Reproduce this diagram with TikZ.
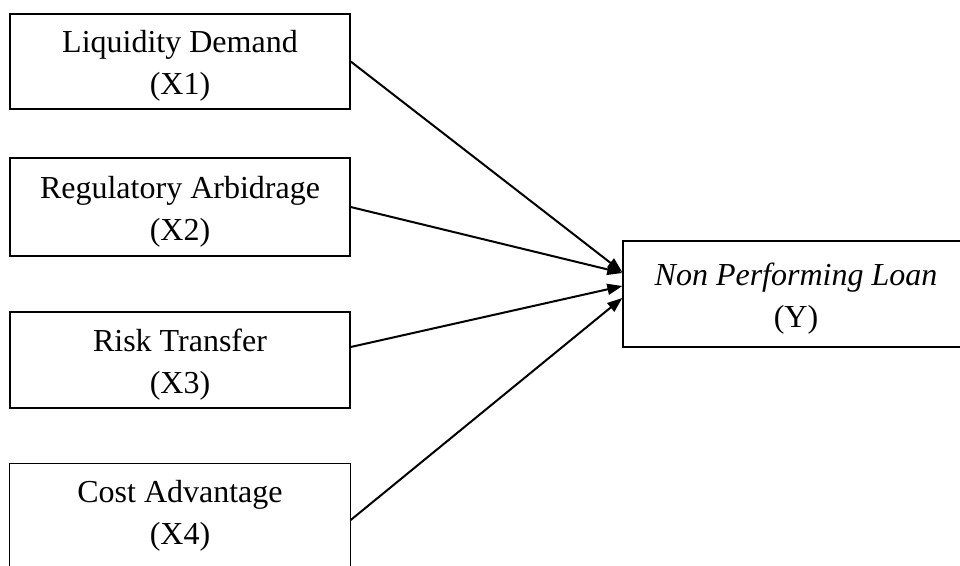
\documentclass[tikz,border=0pt]{standalone}
\usepackage{fontspec}
\setmainfont{Liberation Serif}
\usetikzlibrary{arrows.meta}
\begin{document}
\begin{tikzpicture}[x=1pt,y=-1pt,
  box/.style={draw, line width=1.4pt, minimum width=340pt, minimum height=95pt,
    inner sep=0pt, align=center, font=\fontsize{32}{42}\selectfont},
  link/.style={line width=2pt, -{Triangle[length=15pt,width=11pt]}}]
\useasboundingbox (0,0) rectangle (960,565);
\clip (0,0) rectangle (960,565);
\node[box] (b1) at (180,61.5) {\rule{0pt}{31pt}Liquidity Demand\\(X1)};
\node[box, minimum height=98pt] (b2) at (180,207) {\rule{0pt}{31pt}Regulatory Arbidrage\\(X2)};
\node[box, minimum height=96pt] (b3) at (180,360) {\rule{0pt}{31pt}Risk Transfer\\(X3)};
\node[box, draw=none] (b4) at (180,511.5) {\rule{0pt}{31pt}Cost Advantage\\(X4)};
\draw[line width=1.4pt] ([yshift=-30pt]b4.south west) -- (b4.north west)
  -- (b4.north east) -- ([yshift=-30pt]b4.south east);
\node[box, minimum width=346pt, minimum height=106pt] (y) at (796,294)
  {\rule{0pt}{31pt}\textit{Non Performing Loan}\\(Y)};
\draw[link] (b1.east) -- ([yshift=22pt]y.west);
\draw[link] (b2.east) -- ([yshift=21pt]y.west);
\draw[link] ([yshift=13pt]b3.east) -- ([yshift=8pt]y.west);
\draw[link] ([yshift=-8.5pt]b4.east) -- ([yshift=-4pt]y.west);
\end{tikzpicture}
\end{document}
